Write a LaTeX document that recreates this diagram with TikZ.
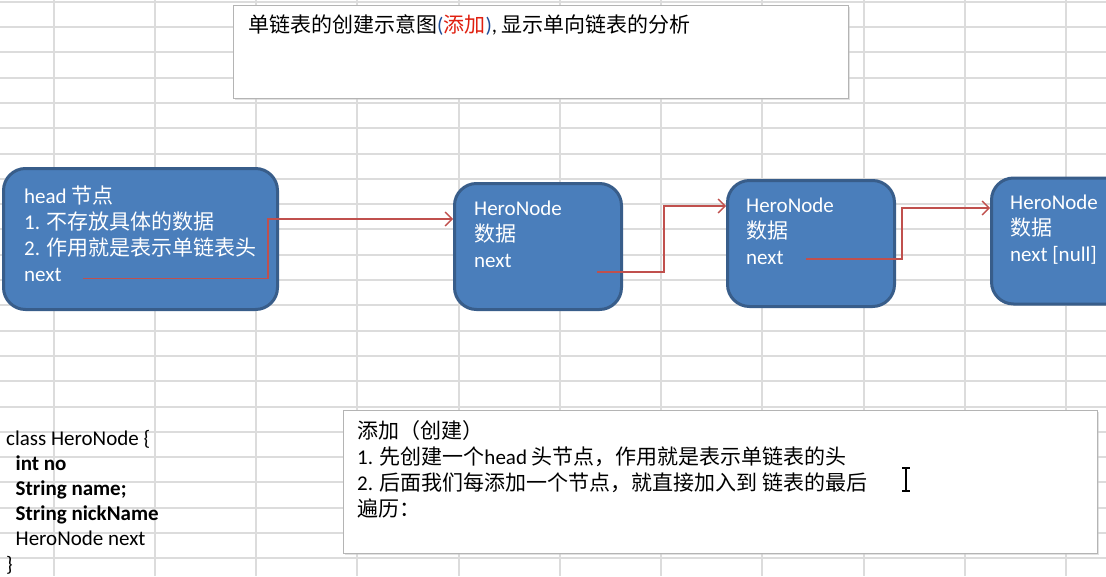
\documentclass[tikz,border=0pt]{standalone}
\usepackage{fontspec}
\setmainfont{Carlito}
\newfontfamily\zhfont{Noto Sans CJK SC}
\usetikzlibrary{arrows.meta,calc,positioning,shadows}

\definecolor{gridgray}{HTML}{DCDCDC}
\definecolor{nodeblue}{HTML}{4A7EBB}
\definecolor{nodeedge}{HTML}{385D8A}
\definecolor{linkred}{HTML}{C0504D}
\definecolor{boxedge}{HTML}{B4B4B4}
\definecolor{parblue}{HTML}{1F4E9A}
\definecolor{addred}{HTML}{E02010}

\newcommand{\zh}[1]{{\zhfont #1}}

\tikzset{
 heronode/.style={draw=nodeedge,fill=nodeblue,line width=3pt,rounded corners=22pt,inner sep=0pt},
 notebox/.style={draw=boxedge,fill=white,line width=1.2pt,inner sep=0pt,
  drop shadow={shadow xshift=1.5pt,shadow yshift=-1.5pt,fill=gray!45}},
 whitetext/.style={text=white,anchor=base west,inner sep=0pt},
 celltext/.style={anchor=base west,inner sep=0pt},
 link/.style={draw=linkred,line width=1.3pt,-{Straight Barb[length=7pt,width=14pt]}},
}

\begin{document}
\begin{tikzpicture}[x=1pt,y=-1pt,font=\fontsize{21}{26}\selectfont]
\useasboundingbox (0,0) rectangle (1106,576);
\clip (0,0) rectangle (1106,576);
\fill[white] (0,0) rectangle (1106,576);
% sheet grid
\foreach \k in {0,...,10}{\draw[gridgray,line width=1.8pt] ({round(53.5+101.25*\k)},0)--({round(53.5+101.25*\k)},576);}
\foreach \k in {0,...,22}{\draw[gridgray,line width=1.8pt] (0,{round(1.7+25.3*\k)})--(1106,{round(1.7+25.3*\k)});}

% title
\node[notebox,minimum width=615pt,minimum height=93pt] (title) at (541,52) {};
\node[celltext] (titletxt) at (248,32.5)
 {\zh{单链表的创建示意图}\textcolor{parblue}{(}\zh{\textcolor{addred}{添加}}\textcolor{parblue}{)}, \zh{显示单向链表的分析}};

% list nodes
\node[heronode,minimum width=274pt,minimum height=141pt] (head) at (140.5,239) {};
\node[heronode,minimum width=167pt,minimum height=126pt] (n1) at (538,246.5) {};
\node[heronode,minimum width=167pt,minimum height=126pt] (n2) at (811,243.5) {};
\node[heronode,minimum width=167pt,minimum height=126pt] (n3) at (1075,241) {};

\foreach \t [count=\i] in {head \zh{节点},1. \zh{不存放具体的数据},2. \zh{作用就是表示单链表头},next}
 \node[whitetext] (headl\i) at (24,{177+26*\i}) {\t};
\foreach \t [count=\i] in {HeroNode,\zh{数据},next}
 \node[whitetext] (n1l\i) at (474,{189.5+26*\i}) {\t};
\foreach \t [count=\i] in {HeroNode,\zh{数据},next}
 \node[whitetext] (n2l\i) at (746,{186.5+26*\i}) {\t};
\foreach \t [count=\i] in {HeroNode,\zh{数据},next [null]}
 \node[whitetext] (n3l\i) at (1010,{183.5+26*\i}) {\t};

% next pointers
\coordinate (headnext) at (83,278.5);
\coordinate (n1next) at (597,272);
\coordinate (n2next) at (806,259);
\draw[link] (headnext) -- ++(185,0) |- ([yshift=27.5pt]n1.west);
\draw[link] (n1next) -- ++(67,0) |- ([yshift=37.5pt]n2.west);
\draw[link] (n2next) -- ++(96,0) |- ([yshift=33pt]n3.west);

% class listing
\foreach \t/\x [count=\i] in {class HeroNode \{/6,\textbf{int no}/15.5,\textbf{String name;}/15.5,\textbf{String nickName}/15.5,HeroNode next/15.5,\}/6}
 \node[celltext] (code\i) at (\x,{419.8+25.2*\i}) {\t};

% notes
\node[notebox,minimum width=754pt,minimum height=143pt] (note) at (720.5,482) {};
\foreach \t [count=\i] in {\zh{添加（创建）},1. \zh{先创建一个}head \zh{头节点，作用就是表示单链表的头},2. \zh{后面我们每添加一个节点，就直接加入到 链表的最后},\zh{遍历：}}
 \node[celltext] (notel\i) at (357,{412.5+26*\i}) {\t};

% text cursor
\draw[line width=1.3pt] (906,468) -- (906,491) (902,468) -- (910,468) (902,491) -- (910,491);
\end{tikzpicture}
\end{document}
